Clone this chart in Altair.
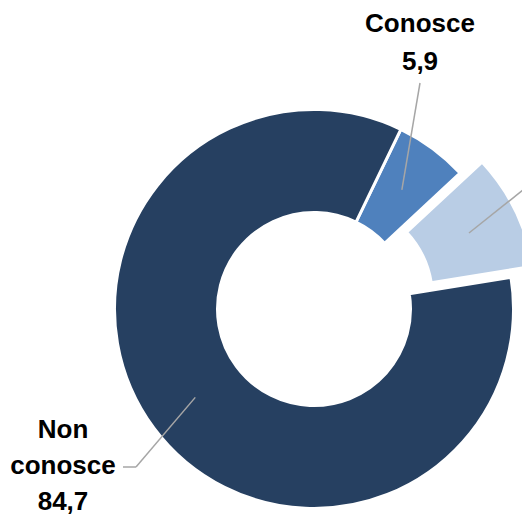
import math
import altair as alt
import pandas as pd

# ---- data ----
categories = ["Conosce", "Non sa", "Non conosce"]
values = [5.9, 9.4, 84.7]
value_labels = ["5,9", "9,4", "84,7"]
label_lines = ["Conosce\n5,9", "Non sa\n9,4", "Non\nconosce\n84,7"]
colors = ["#4f81bd", "#b9cde5", "#264061"]

df = pd.DataFrame({
    "cat": categories,
    "value": values,
    "order": list(range(len(categories))),
    "lab": value_labels,
    "txt": label_lines,
})

# ---- geometry / style ----
ROT = math.radians(25.8)
CX, CY = 306, 301          # donut centre
EX, EY = 328, 290          # centre of the exploded slice
R_IN, R_OUT = 98, 198
RM = (R_IN + R_OUT) / 2
GREY = "#a6a6a6"
FONT = "Liberation Sans"

base = alt.Chart(df).transform_window(
    cum="sum(value)", sort=[alt.SortField("order")], frame=[None, 0]
).transform_calculate(
    start="datum.cum - datum.value",
    ang=f"{ROT} + 2*PI*(datum.cum - datum.value/2)/100",
)

theta_scale = alt.Scale(domain=[0, 100], range=[ROT, ROT + 2 * math.pi])
color = alt.Color("cat:N", scale=alt.Scale(domain=categories, range=colors), legend=None)


def arcs(cats, cx, cy):
    return base.transform_filter(
        alt.FieldOneOfPredicate(field="cat", oneOf=cats)
    ).mark_arc(
        innerRadius=R_IN - 1.5, outerRadius=R_OUT + 1.5, stroke="white", strokeWidth=3
    ).encode(
        theta=alt.Theta("start:Q", scale=theta_scale, stack=None),
        theta2="cum:Q",
        color=color,
        x=alt.value(cx),
        y=alt.value(cy),
    )


def leader(cat, cx, cy, tx, ty):
    return base.transform_filter(alt.datum.cat == cat).transform_calculate(
        lx=f"{cx} + {RM}*sin(datum.ang)",
        ly=f"{cy} - {RM}*cos(datum.ang)",
    ).mark_rule(color=GREY, strokeWidth=1.5).encode(
        x=alt.X("lx:Q", scale=None),
        y=alt.Y("ly:Q", scale=None),
        x2=alt.value(tx),
        y2=alt.value(ty),
    )


def label(cat, x, y, lh):
    return base.transform_filter(alt.datum.cat == cat).mark_text(
        font=FONT, fontSize=26, fontWeight="bold", color="black",
        align="center", baseline="alphabetic", lineBreak="\n", lineHeight=lh,
    ).encode(text="txt:N", x=alt.value(x), y=alt.value(y))


hline = base.transform_filter(alt.datum.cat == "Non conosce").mark_rule(
    color=GREY, strokeWidth=1.5
).encode(x=alt.value(128), x2=alt.value(115), y=alt.value(459))

chart = alt.layer(
    arcs(["Conosce", "Non conosce"], CX, CY),
    arcs(["Non sa"], EX, EY),
    leader("Conosce", CX, CY, 412, 75),
    leader("Non sa", EX, EY, 530, 170),
    leader("Non conosce", CX, CY, 128, 459),
    hline,
    label("Conosce", 412, 24, 38),
    label("Non conosce", 55, 430, 36),
).properties(
    width=514, height=507, padding=0,
    autosize=alt.AutoSizeParams(type="none"),
).configure_view(stroke=None)

chart.save("out.html", embed_options={"renderer": "svg", "actions": False})
